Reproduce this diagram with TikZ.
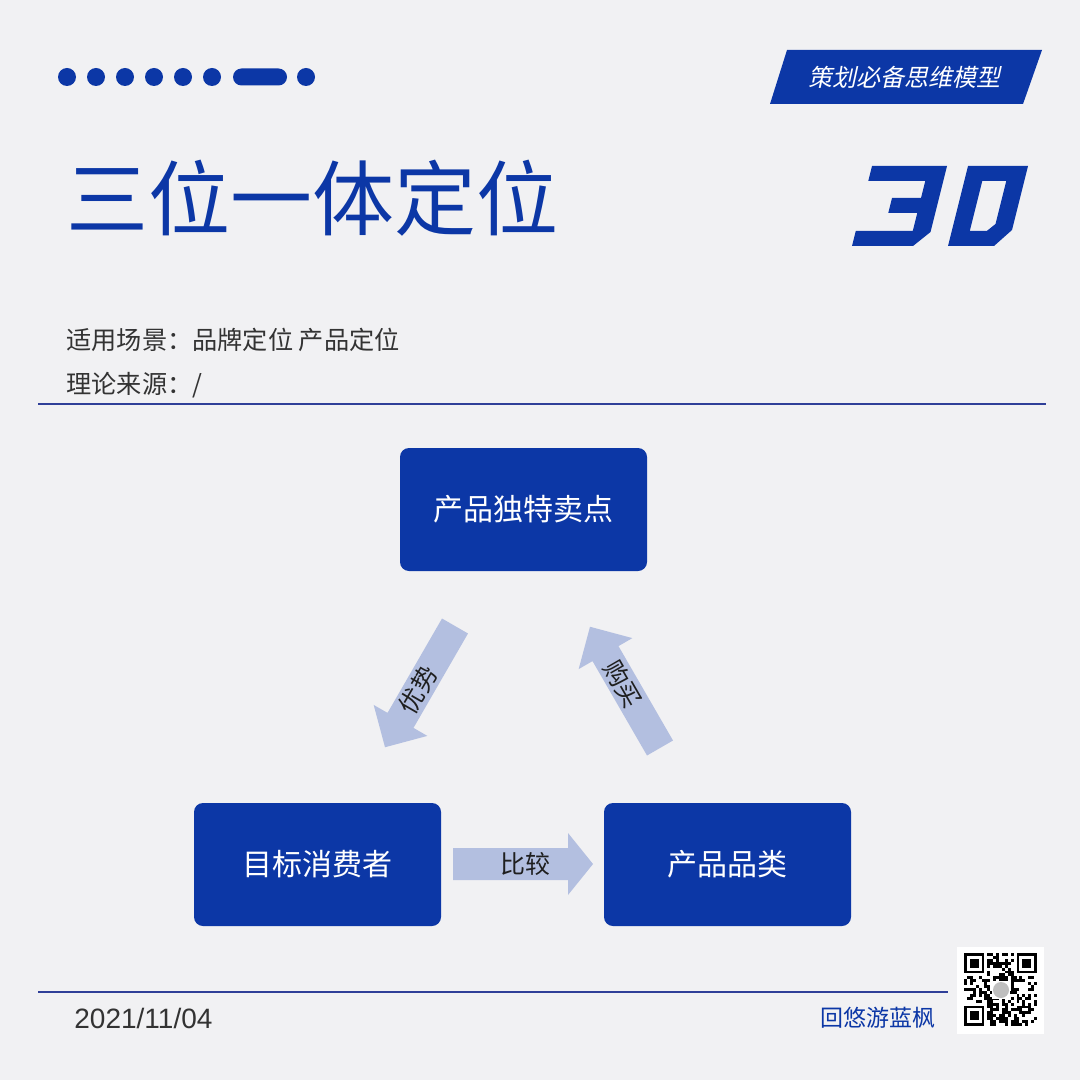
\documentclass[tikz,border=0pt]{standalone}
\usepackage{fontspec}
\setmainfont{Noto Sans CJK SC}
\newfontfamily\datefont{Liberation Sans}
\definecolor{bgc}{HTML}{F1F1F3}
\definecolor{mainblue}{HTML}{0C37A6}
\definecolor{arrowfill}{HTML}{B3BFE0}
\definecolor{txtgray}{HTML}{333333}
\definecolor{rulec}{HTML}{2F3F98}
\begin{document}
\begin{tikzpicture}[x=0.5pt,y=-0.5pt,
  box/.style={fill=mainblue, rounded corners=4.5pt, minimum width=123.5pt, minimum height=61.5pt, text=white, font=\fontsize{15}{15}\selectfont, inner sep=0pt},
  arrowlabel/.style={text=black!88, font=\fontsize{12.5}{12.5}\selectfont, inner sep=0pt},
  dot/.style={fill=mainblue},
  rulestyle/.style={draw=rulec, line width=1pt},
  info/.style={anchor=west, inner sep=0pt, text=txtgray, font=\fontsize{12.6}{12.6}\selectfont}]
% background and bounding box
\fill[bgc] (0,0) rectangle (1080,1080);
\useasboundingbox (0,0) rectangle (1080,1080);

% dots
\foreach \cx in {67,96,125,154,183,212,306}
  \fill[dot] (\cx,77) circle[radius=4.5pt];
\fill[dot, rounded corners=4.25pt] (233,68.5) rectangle (287,85.5);

% banner
\fill[mainblue] (787,50) -- (1042,50) -- (1023,104) -- (770,104) -- cycle;
\node[text=white, xslant=0.22, inner sep=0pt, font=\fontsize{12}{12}\selectfont] (banner) at (906,77) {策划必备思维模型};

% big number 30
\fill[mainblue] (872,166) -- (947,166) -- (930.5,232) -- (913,246) -- (852,246) -- (855.75,231) -- (912.75,231) -- (917.25,213) -- (888.25,213) -- (892,198) -- (921,198) -- (925.25,181) -- (868.25,181) -- cycle;
\fill[mainblue, even odd rule] (968,166) -- (1028,166) -- (1012,230) -- (994,246) -- (948,246) -- cycle
  (982.25,181) -- (1006.25,181) -- (995.5,224) -- (986.75,231) -- (969.75,231) -- cycle;

% title
\node[anchor=west, inner sep=0pt, text=mainblue, font=\fontsize{41}{41}\selectfont] (title) at (66,198) {三位一体定位};

% info lines
\node[info] (scene) at (66,340) {适用场景：品牌定位 产品定位};
\node[info] (source) at (66,385) {理论来源：/};
\draw[rulestyle] (38,404) -- (1046,404);

% boxes
\node[box] (usp) at (523.5,509.5) {产品独特卖点};
\node[box] (consumer) at (317.5,864.5) {目标消费者};
\node[box] (category) at (727.5,864.5) {产品品类};

% block arrows
\begin{scope}[shift={(453,864)}]
  \fill[arrowfill] (0,-16) -- (115,-16) -- (115,-31) -- (140,0) -- (115,31) -- (115,16) -- (0,16) -- cycle;
  \node[arrowlabel] (cmp) at (72,0) {比较};
\end{scope}
\begin{scope}[shift={(455,626)}, rotate=240]
  \fill[arrowfill] (0,-15) -- (109,-15) -- (109,-31) -- (140,0) -- (109,31) -- (109,15) -- (0,15) -- cycle;
  \node[arrowlabel, rotate=60] (adv) at (74,0) {优势};
\end{scope}
\begin{scope}[shift={(660,748)}, rotate=120]
  \fill[arrowfill] (0,-15) -- (109,-15) -- (109,-31) -- (140,0) -- (109,31) -- (109,15) -- (0,15) -- cycle;
  \node[arrowlabel, rotate=-60] (buy) at (74,0) {购买};
\end{scope}

% footer
\draw[rulestyle] (38,992) -- (948,992);
\node[anchor=west, inner sep=0pt, text=txtgray, font=\datefont\fontsize{14}{14}\selectfont] (date) at (74,1018) {2021/11/04};
\node[anchor=east, inner sep=0pt, text=mainblue, font=\fontsize{11.5}{11.5}\selectfont] (author) at (936,1018) {回悠游蓝枫};

% QR code
\fill[white] (957,947) rectangle (1044,1034);
\pgfmathsetseed{20211104}
\foreach \i in {0,...,24}{
  \foreach \j in {0,...,24}{
    \pgfmathrandominteger{\qr}{0}{99}
    \pgfmathtruncatemacro{\qskipit}{((\i<8)&&(\j<8)) || ((\i>16)&&(\j<8)) || ((\i<8)&&(\j>16)) ? 1 : 0}
    \ifnum\qskipit=0
      \ifnum\qr<50
        \fill[black] ({964+\i*2.92},{953+\j*2.92}) rectangle ++(2.92,2.92);
      \fi
    \fi
  }
}
\foreach \a/\b in {0/0,18/0,0/18}{
  \fill[black] ({964+\a*2.92},{953+\b*2.92}) rectangle ++(20.44,20.44);
  \fill[white] ({964+(\a+1)*2.92},{953+(\b+1)*2.92}) rectangle ++(14.6,14.6);
  \fill[black] ({964+(\a+2)*2.92},{953+(\b+2)*2.92}) rectangle ++(8.76,8.76);
}
\fill[white] (992,981) rectangle (1010,999);
\fill[black!25] (1001,990) circle[radius=4pt];
\end{tikzpicture}
\end{document}
